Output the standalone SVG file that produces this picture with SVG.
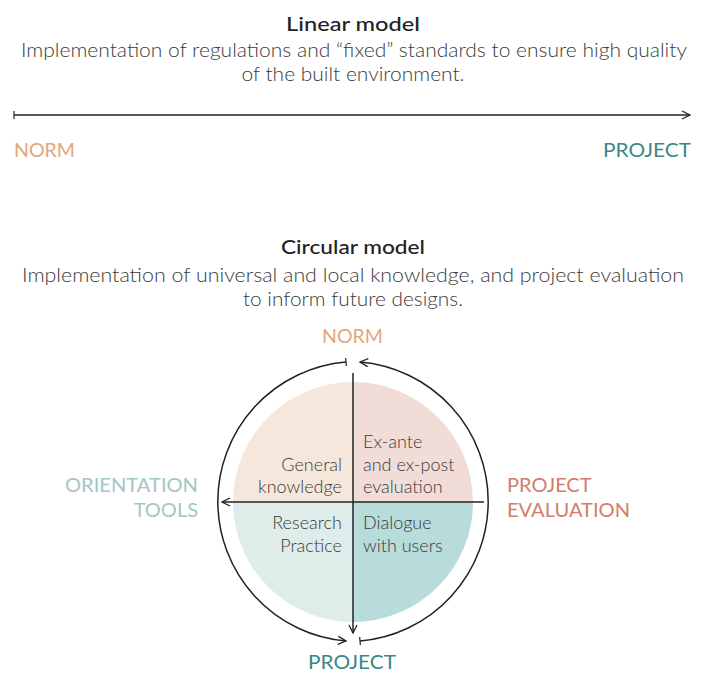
<svg xmlns="http://www.w3.org/2000/svg" width="710" height="673" viewBox="0 0 710 673">
<style>
.t{font-family:Lato,"Liberation Sans",sans-serif;fill:#222;font-size:19px;font-weight:500;text-anchor:middle}
.s{font-family:Lato,"Liberation Sans",sans-serif;fill:#3a3a3a;font-size:19.5px;font-weight:300;text-anchor:middle}
.q{font-family:Lato,"Liberation Sans",sans-serif;fill:#3a3a3a;font-size:18px;font-weight:300}
.c{font-family:Lato,"Liberation Sans",sans-serif;font-size:20px;font-weight:400}
.ln{fill:none;stroke:#222;stroke-width:1.5}
</style>
<defs>
<marker id="ah" viewBox="0 0 10 10" refX="9" refY="5" markerWidth="10" markerHeight="10" markerUnits="userSpaceOnUse" orient="auto"><path d="M1,1 L9,5 L1,9" fill="none" stroke="#222" stroke-width="1.3"/></marker>
<marker id="tk" viewBox="0 0 10 10" refX="5" refY="5" markerWidth="8" markerHeight="8" markerUnits="userSpaceOnUse" orient="auto"><path d="M5,0 L5,10" fill="none" stroke="#222" stroke-width="1.5"/></marker>
</defs>
<rect width="710" height="673" fill="#fff"/>
<g id="linear-title">
<text class="t" x="353" y="31" textLength="134" lengthAdjust="spacingAndGlyphs">Linear model</text>
<text class="s" x="354" y="57" textLength="666" lengthAdjust="spacingAndGlyphs">Implementation of regulations and “fixed” standards to ensure high quality</text>
<text class="s" x="353" y="81" textLength="223" lengthAdjust="spacingAndGlyphs">of the built environment.</text>
</g>
<g id="linear-norm"><text class="c" x="14" y="157" fill="#e2a77c" textLength="61" lengthAdjust="spacingAndGlyphs">NORM</text></g>
<g id="linear-project"><text class="c" x="603" y="157" fill="#3a8786" textLength="88" lengthAdjust="spacingAndGlyphs">PROJECT</text></g>
<g id="circular-title">
<text class="t" x="353" y="254" textLength="144" lengthAdjust="spacingAndGlyphs">Circular model</text>
<text class="s" x="353" y="282" textLength="662" lengthAdjust="spacingAndGlyphs">Implementation of universal and local knowledge, and project evaluation</text>
<text class="s" x="353" y="306" textLength="220" lengthAdjust="spacingAndGlyphs">to inform future designs.</text>
</g>
<g id="quadrants">
<path d="M353,502 L233,502 A120,120 0 0 1 353,382 Z" fill="#f6e7dc"/>
<path d="M353,502 L353,382 A120,120 0 0 1 473,502 Z" fill="#f2dcd8"/>
<path d="M353,502 L233,502 A120,120 0 0 0 353,622 Z" fill="#deecea"/>
<path d="M353,502 L353,622 A120,120 0 0 0 473,502 Z" fill="#b8dbdb"/>
</g>
<g id="q-general"><text class="q" text-anchor="end" x="342" y="471">General</text><text class="q" text-anchor="end" x="342" y="493">knowledge</text></g>
<g id="q-evaluation"><text class="q" x="363" y="448">Ex-ante</text><text class="q" x="363" y="471">and ex-post</text><text class="q" x="363" y="493">evaluation</text></g>
<g id="q-research"><text class="q" text-anchor="end" x="342" y="529">Research</text><text class="q" text-anchor="end" x="342" y="552">Practice</text></g>
<g id="q-dialogue"><text class="q" x="363" y="529">Dialogue</text><text class="q" x="363" y="552">with users</text></g>
<g id="norm"><text class="c" x="322" y="343" fill="#e2a77c" textLength="61" lengthAdjust="spacingAndGlyphs">NORM</text></g>
<g id="project"><text class="c" x="308" y="669" fill="#3a8786" textLength="88" lengthAdjust="spacingAndGlyphs">PROJECT</text></g>
<g id="orientation-tools"><text class="c" x="65" y="492" fill="#a3c6c5" textLength="133" lengthAdjust="spacingAndGlyphs">ORIENTATION</text><text class="c" x="198" y="517" fill="#a3c6c5" text-anchor="end">TOOLS</text></g>
<g id="project-evaluation"><text class="c" x="507" y="492" fill="#d47d68">PROJECT</text><text class="c" x="507" y="517" fill="#d47d68" textLength="123" lengthAdjust="spacingAndGlyphs">EVALUATION</text></g>
<g id="connectors">
<line class="ln" x1="14" y1="115" x2="690" y2="115" marker-start="url(#tk)" marker-end="url(#ah)"/>
<path class="ln" d="M346,362 A140,140 0 0 0 346,641" marker-start="url(#tk)" marker-end="url(#ah)"/>
<path class="ln" d="M360,641 A140,140 0 0 0 360,362" marker-start="url(#tk)" marker-end="url(#ah)"/>
<line class="ln" x1="353" y1="373" x2="353" y2="633" marker-end="url(#ah)"/>
<line class="ln" x1="484" y1="502" x2="222" y2="502" marker-end="url(#ah)"/>
</g>
</svg>
